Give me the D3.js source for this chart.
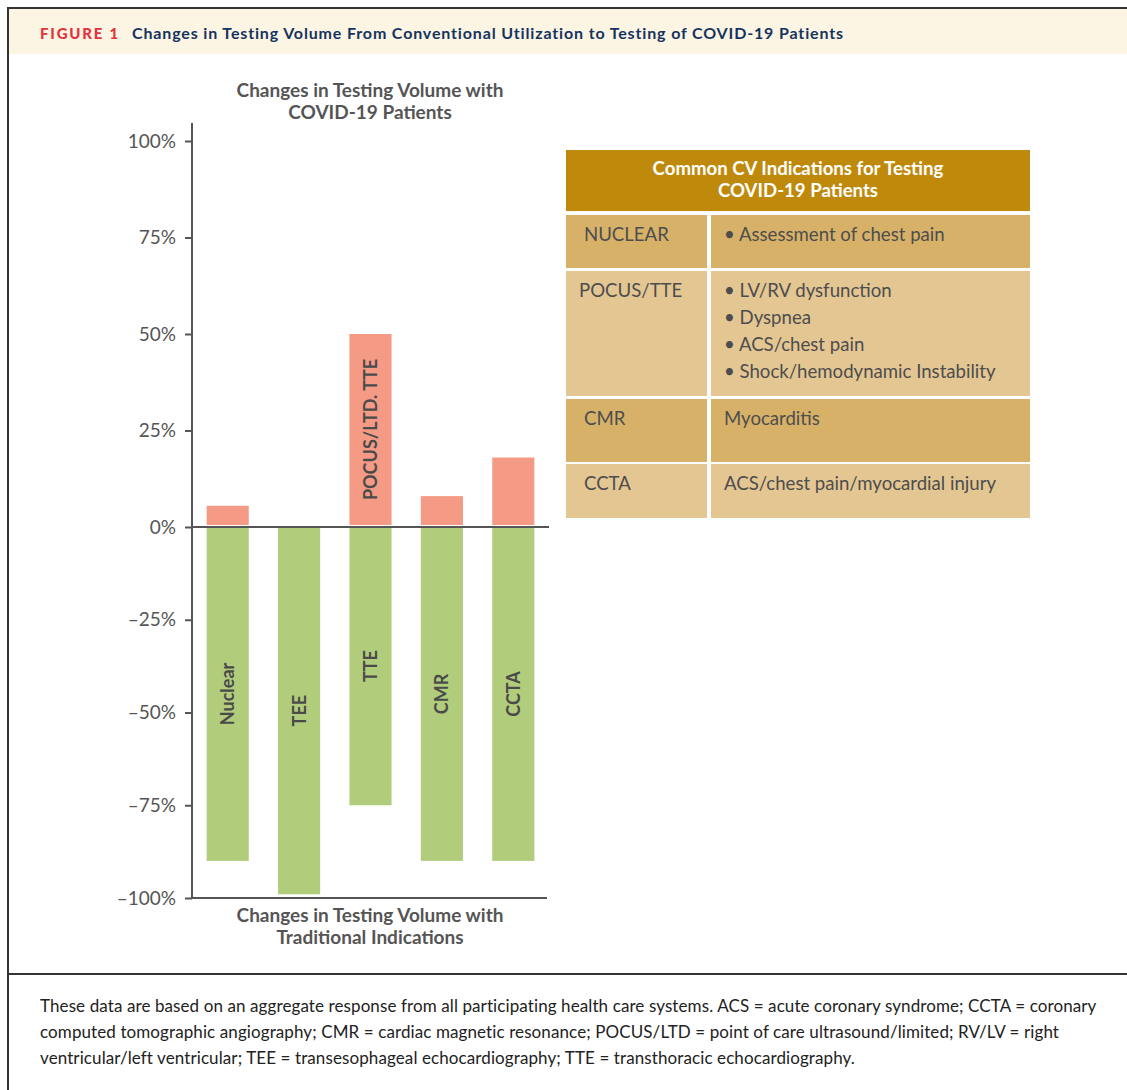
<!DOCTYPE html>
<html>
<head>
<meta charset="utf-8">
<script src="https://cdn.jsdelivr.net/npm/d3@7"></script>
<style>
  body { margin: 0; background: #fff; }
  svg { display: block; font-family: Lato, "Open Sans", sans-serif; }
</style>
</head>
<body>
<svg id="fig" width="1127" height="1090"></svg>
<script>
// Chart data
const categories = ["Nuclear", "TEE", "TTE", "CMR", "CCTA"];
const covidChange = [5.5, 0, 50, 8, 18];            // changes with COVID-19 patients
const traditionalChange = [-90, -99, -75, -90, -90]; // changes with traditional indications
const covidLabels = ["", "", "POCUS/LTD. TTE", "", ""];
const yTicks = [100, 75, 50, 25, 0, -25, -50, -75, -100];

// Table data
const tableTitle = ["Common CV Indications for Testing", "COVID-19 Patients"];
const modalities = ["NUCLEAR", "POCUS/TTE", "CMR", "CCTA"];
const indications = [
  ["\u2022 Assessment of chest pain"],
  ["\u2022 LV/RV dysfunction", "\u2022 Dyspnea", "\u2022 ACS/chest pain", "\u2022 Shock/hemodynamic Instability"],
  ["Myocarditis"],
  ["ACS/chest pain/myocardial injury"]
];

const captionLines = [
  "These data are based on an aggregate response from all participating health care systems. ACS = acute coronary syndrome; CCTA = coronary",
  "computed tomographic angiography; CMR = cardiac magnetic resonance; POCUS/LTD = point of care ultrasound/limited; RV/LV = right",
  "ventricular/left ventricular; TEE = transesophageal echocardiography; TTE = transthoracic echocardiography."
];

const svg = d3.select("#fig");

// Frame and header band
svg.append("rect").attr("x", 9).attr("y", 9).attr("width", 1118).attr("height", 45).attr("fill", "#fdf5e3");
svg.append("line").attr("x1", 8).attr("x2", 1127).attr("y1", 8).attr("y2", 8).attr("stroke", "#333").attr("stroke-width", 2);
svg.append("line").attr("x1", 8).attr("x2", 8).attr("y1", 7).attr("y2", 1090).attr("stroke", "#333").attr("stroke-width", 2);
svg.append("line").attr("x1", 8).attr("x2", 1127).attr("y1", 974).attr("y2", 974).attr("stroke", "#333").attr("stroke-width", 2);

svg.append("text").attr("x", 40).attr("y", 39)
  .attr("fill", "#e5323b").attr("font-weight", 900).attr("font-size", 15)
  .attr("letter-spacing", 1.8).text("FIGURE 1");
svg.append("text").attr("x", 132).attr("y", 39)
  .attr("fill", "#15335f").attr("font-weight", 700).attr("font-size", 16)
  .attr("letter-spacing", 0.85)
  .text("Changes in Testing Volume From Conventional Utilization to Testing of COVID-19 Patients");

// Scales
const x = d3.scaleBand().domain(categories).range([192, 549]).paddingInner(0.41).paddingOuter(0.205);
const y = d3.scaleLinear().domain([-100, 0, 100]).range([898, 527, 141]);

const data = categories.map((c, i) => ({ cat: c, pos: covidChange[i], neg: traditionalChange[i], posLabel: covidLabels[i] }));

// Bars
svg.append("g").selectAll("rect").data(data.filter(d => d.pos > 0)).join("rect")
  .attr("x", d => x(d.cat))
  .attr("width", x.bandwidth())
  .attr("y", d => y(d.pos))
  .attr("height", d => y(0) - 2 - y(d.pos))
  .attr("fill", "#f59b85");

svg.append("g").selectAll("rect").data(data).join("rect")
  .attr("x", d => x(d.cat))
  .attr("width", x.bandwidth())
  .attr("y", y(0) + 1)
  .attr("height", d => y(d.neg) - y(0) - 1)
  .attr("fill", "#b1cd7c");

// Bar labels
const labelStyle = sel => sel
  .attr("text-anchor", "middle").attr("dy", "0.36em")
  .attr("font-size", 18).attr("font-weight", 700).attr("fill", "#4a4a4a");

svg.append("g").selectAll("text").data(data).join("text")
  .attr("transform", d => `translate(${x(d.cat) + x.bandwidth() / 2},${(y(0) + y(d.neg)) / 2}) rotate(-90)`)
  .text(d => d.cat)
  .call(labelStyle);

svg.append("g").selectAll("text").data(data.filter(d => d.posLabel)).join("text")
  .attr("transform", d => `translate(${x(d.cat) + x.bandwidth() / 2},${(y(0) - 2 + y(d.pos)) / 2}) rotate(-90)`)
  .text(d => d.posLabel)
  .call(labelStyle);

// Y axis
const yAxis = svg.append("g").attr("transform", "translate(192,0)")
  .call(d3.axisLeft(y).tickValues(yTicks).tickSize(7).tickPadding(9)
    .tickFormat(d => (d < 0 ? "\u2013" + Math.abs(d) : d) + "%"));
yAxis.select(".domain").remove();
yAxis.selectAll(".tick line").attr("stroke", "#555").attr("stroke-width", 2);
yAxis.selectAll(".tick text").attr("font-family", "Lato, sans-serif").attr("font-size", 19).attr("fill", "#555");

svg.append("line").attr("x1", 192).attr("x2", 192).attr("y1", 123).attr("y2", y(-100) + 1)
  .attr("stroke", "#555").attr("stroke-width", 2);
svg.append("line").attr("x1", 191).attr("x2", 549).attr("y1", y(0)).attr("y2", y(0))
  .attr("stroke", "#555").attr("stroke-width", 2);
svg.append("line").attr("x1", 191).attr("x2", 547).attr("y1", y(-100)).attr("y2", y(-100))
  .attr("stroke", "#555").attr("stroke-width", 2);

// Chart titles
const titleCx = 370;
[["Changes in Testing Volume with", 97], ["COVID-19 Patients", 119],
 ["Changes in Testing Volume with", 922], ["Traditional Indications", 944]].forEach(([t, ty]) => {
  svg.append("text").attr("x", titleCx).attr("y", ty).attr("text-anchor", "middle")
    .attr("font-size", 19).attr("font-weight", 700).attr("fill", "#555").text(t);
});

// Indications table
const tbl = svg.append("g");
const tX0 = 566, tX1 = 1030, colSplit = 707, colGap = 4;
tbl.append("rect").attr("x", tX0).attr("y", 150).attr("width", tX1 - tX0).attr("height", 61).attr("fill", "#bf8a0b");
tableTitle.forEach((t, i) => {
  tbl.append("text").attr("x", (tX0 + tX1) / 2).attr("y", 175 + i * 22).attr("text-anchor", "middle")
    .attr("font-size", 18.6).attr("font-weight", 700).attr("fill", "#fff").text(t);
});

const rowTops = [215, 271, 399, 464];
const rowBottoms = [268, 396, 462, 518];
const rowFills = ["#d8b169", "#e4c693", "#d8b169", "#e4c693"];

modalities.forEach((m, i) => {
  const top = rowTops[i], h = rowBottoms[i] - top;
  tbl.append("rect").attr("x", tX0).attr("y", top).attr("width", colSplit - tX0).attr("height", h).attr("fill", rowFills[i]);
  tbl.append("rect").attr("x", colSplit + colGap).attr("y", top).attr("width", tX1 - colSplit - colGap).attr("height", h).attr("fill", rowFills[i]);
  tbl.append("text").attr("x", m === "POCUS/TTE" ? 579 : 584).attr("y", top + 26)
    .attr("font-size", 18.6).attr("fill", "#4d4d4d").text(m);
  indications[i].forEach((line, j) => {
    tbl.append("text").attr("x", 724).attr("y", top + 26 + j * 27)
      .attr("font-size", 18.6).attr("fill", "#4d4d4d").text(line);
  });
});

// Caption
captionLines.forEach((t, i) => {
  svg.append("text").attr("x", 40).attr("y", 1012 + i * 26)
    .attr("font-size", 17).attr("letter-spacing", 0.1).attr("fill", "#222").text(t);
});
</script>
</body>
</html>
